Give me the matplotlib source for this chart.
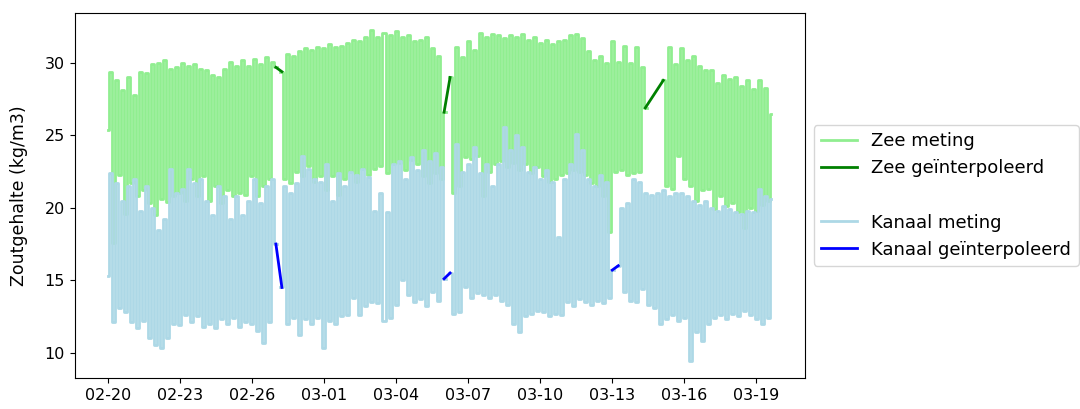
import numpy as np
import pandas as pd
import matplotlib
matplotlib.use("Agg")
import matplotlib.pyplot as plt
import matplotlib.dates as mdates
from matplotlib.lines import Line2D

nan = np.nan

# metingen elke 3 uur, vanaf 2023-02-20 00:00 (een rij per dag)
zee = [
    25.4, 29.4, 17.6, 28.8, 22.3, 28.1, 19.6, 29.0,
    21.7, 27.8, 20.8, 29.4, 21.2, 29.3, 20.3, 29.9,
    19.5, 30.0, 20.6, 30.2, 20.4, 29.6, 20.8, 29.7,
    21.0, 30.0, 20.5, 29.8, 22.0, 29.9, 20.8, 29.6,
    22.2, 29.5, 20.5, 29.2, 21.5, 29.0, 20.3, 29.6,
    21.2, 30.1, 20.8, 29.8, 21.0, 30.2, 20.9, 29.8,
    22.2, 30.3, 20.8, 29.9, 21.5, 30.4, 22.0, 30.1,
    29.7, nan, 29.4, 22.0, 30.6, 21.7, 30.5, 22.5,
    30.8, 22.2, 31.0, 22.9, 30.9, 21.8, 31.1, 22.2,
    31.0, 21.2, 31.3, 22.2, 31.1, 20.9, 31.2, 22.0,
    31.4, 22.5, 31.6, 21.8, 31.5, 22.7, 31.8, 22.3,
    32.3, 22.7, 31.8, 22.9, 32.1, 22.4, 31.9, 23.0,
    32.2, 23.1, 31.8, 22.6, 31.9, 23.3, 31.5, 23.0,
    31.6, 22.2, 31.8, 21.7, 31.0, 22.4, 30.5, 22.0,
    26.6, nan, 29.0, 21.0, 31.1, 21.5, 30.4, 23.5,
    31.5, 23.4, 30.9, 23.6, 32.1, 20.8, 31.8, 22.5,
    32.0, 23.0, 31.9, 23.2, 31.7, 22.8, 31.9, 23.1,
    31.8, 22.6, 32.0, 23.0, 31.6, 22.4, 31.8, 22.8,
    31.4, 22.2, 31.6, 21.8, 31.3, 22.0, 31.5, 22.3,
    31.6, 22.4, 31.9, 22.6, 32.0, 22.5, 31.7, 22.3,
    30.8, 21.7, 30.2, 21.5, 30.5, 20.8, 30.0, 18.3,
    31.5, 22.5, 30.1, 22.6, 31.2, 22.3, 30.0, 22.4,
    31.1, 22.5, 29.7, 26.9, nan, nan, nan, nan,
    nan, 28.8, 21.5, 31.1, 21.3, 29.9, 23.6, 31.0,
    22.0, 30.2, 21.5, 30.5, 20.5, 29.8, 21.2, 29.5,
    21.3, 29.5, 19.9, 28.6, 20.8, 29.2, 20.1, 28.9,
    20.3, 29.0, 19.7, 28.4, 18.6, 28.8, 20.0, 28.2,
    19.8, 28.8, 20.2, 28.3, 20.5, 26.5,
]

kanaal = [
    15.3, 22.4, 12.1, 21.7, 13.1, 20.5, 12.8, 21.5,
    12.1, 22.0, 11.7, 19.8, 12.2, 21.5, 11.0, 20.0,
    10.5, 18.5, 10.3, 19.2, 11.0, 22.7, 12.0, 21.0,
    11.9, 21.3, 12.6, 22.7, 12.1, 21.7, 12.5, 22.0,
    11.8, 20.5, 12.0, 19.5, 11.7, 21.5, 12.3, 20.8,
    12.0, 19.2, 12.4, 20.8, 11.8, 19.5, 12.1, 20.5,
    12.0, 22.0, 11.5, 20.3, 10.7, 21.5, 12.1, 22.0,
    17.5, nan, 14.5, 21.5, 12.0, 21.0, 12.4, 21.7,
    11.2, 23.6, 12.3, 22.7, 12.0, 22.0, 12.4, 21.8,
    10.3, 23.0, 12.2, 20.5, 12.0, 22.4, 12.5, 21.5,
    12.6, 22.5, 13.8, 22.3, 12.6, 22.7, 13.2, 22.1,
    13.5, 19.8, 13.4, 21.0, 12.2, 19.7, 12.4, 23.0,
    13.3, 23.2, 15.0, 22.0, 14.0, 23.5, 13.5, 22.6,
    13.7, 24.0, 13.2, 23.2, 14.2, 23.8, 13.6, 22.8,
    15.1, nan, 15.5, 12.7, 24.4, 12.8, 22.5, 14.5,
    23.0, 13.8, 24.2, 14.1, 22.4, 14.0, 23.0, 13.8,
    21.5, 14.0, 23.0, 13.6, 25.6, 13.3, 24.0, 12.0,
    25.0, 11.4, 24.2, 12.5, 22.5, 12.7, 22.8, 12.9,
    22.0, 12.8, 22.6, 12.5, 21.8, 12.7, 18.0, 12.6,
    22.0, 13.5, 23.0, 13.2, 25.1, 13.7, 24.0, 13.5,
    22.0, 13.3, 21.5, 13.6, 22.3, 13.4, 21.8, 13.8,
    15.7, nan, 16.0, 20.0, 14.2, 20.3, 13.6, 22.0,
    13.5, 21.8, 14.4, 21.0, 13.3, 20.9, 13.1, 21.0,
    12.0, 21.2, 12.3, 20.8, 12.6, 21.0, 12.2, 21.0,
    12.4, 20.8, 9.4, 20.5, 11.4, 20.2, 10.8, 20.5,
    12.0, 20.0, 12.4, 19.8, 12.6, 20.1, 12.3, 19.9,
    12.7, 19.7, 12.5, 19.6, 12.9, 19.8, 12.6, 19.7,
    12.3, 21.3, 12.0, 20.8, 12.4, 20.6,
]

# geinterpoleerde stukken (begin, eind)
zee_interp_tijd = [("2023-02-27 00:00", "2023-02-27 06:00"),
                   ("2023-03-06 00:00", "2023-03-06 06:00"),
                   ("2023-03-14 09:00", "2023-03-15 03:00")]
zee_interp_waarde = [(29.7, 29.4), (26.6, 29.0), (26.9, 28.8)]

kanaal_interp_tijd = [("2023-02-27 00:00", "2023-02-27 06:00"),
                      ("2023-03-06 00:00", "2023-03-06 06:00"),
                      ("2023-03-13 00:00", "2023-03-13 06:00")]
kanaal_interp_waarde = [(17.5, 14.5), (15.1, 15.5), (15.7, 16.0)]

tijd = pd.date_range("2023-02-20 00:00", periods=len(zee), freq="3h")

fig = plt.figure(figsize=(10.8, 4.09), dpi=100)
ax = fig.add_axes([0.069, 0.076, 0.676, 0.892])

ax.plot(tijd, zee, color="lightgreen", lw=2.0, drawstyle="steps-mid")
for t, w in zip(zee_interp_tijd, zee_interp_waarde):
    ax.plot(pd.to_datetime(list(t)), w, color="green", lw=2)
ax.plot(tijd, kanaal, color="lightblue", lw=2.0, drawstyle="steps-mid")
for t, w in zip(kanaal_interp_tijd, kanaal_interp_waarde):
    ax.plot(pd.to_datetime(list(t)), w, color="blue", lw=2)

ax.set_ylabel("Zoutgehalte (kg/m3)", fontsize=12.5)
ax.yaxis.set_label_coords(-0.064, 0.5)
ax.set_xticks(pd.date_range("2023-02-20", periods=10, freq="3D"))
ax.xaxis.set_major_formatter(mdates.DateFormatter("%m-%d"))
ax.tick_params(labelsize=11.5)

handles = [Line2D([], [], color="lightgreen", lw=2),
           Line2D([], [], color="green", lw=2),
           Line2D([], [], color="none"),
           Line2D([], [], color="lightblue", lw=2),
           Line2D([], [], color="blue", lw=2)]
labels = ["Zee meting", "Zee geïnterpoleerd", "", "Kanaal meting", "Kanaal geïnterpoleerd"]
ax.legend(handles, labels, loc="center left", bbox_to_anchor=(1.0, 0.5), fontsize=13)

fig.savefig("out.png", dpi=100)
